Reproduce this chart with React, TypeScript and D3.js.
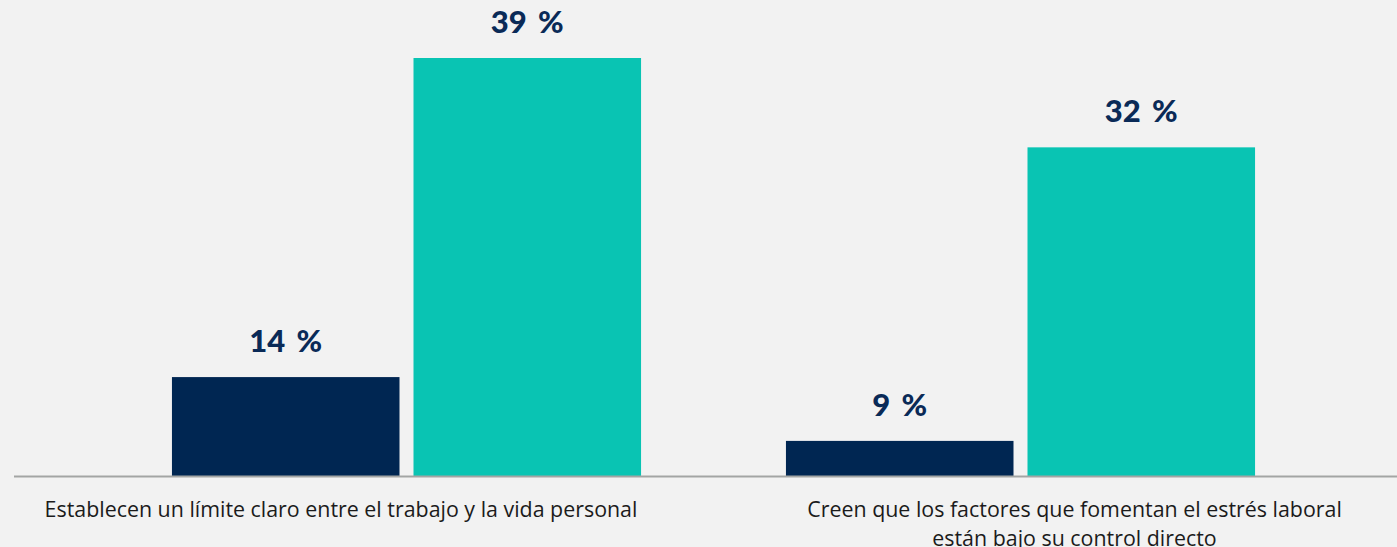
import { useEffect, useRef } from "react";
import * as d3 from "d3";

// data
const categories = [
  "Establecen un límite claro entre el trabajo y la vida personal",
  "Creen que los factores que fomentan el estrés laboral|están bajo su control directo",
];
const seriesNames = ["grupo A", "grupo B"];
const seriesA = [14, 9];
const seriesB = [39, 32];
const seriesColors = ["#002652", "#09c4b3"];

const W = 1397;
const H = 547;

const App = () => {
  const svgRef = useRef<SVGSVGElement | null>(null);

  useEffect(() => {
    document.body.style.margin = "0";
    const svg = d3.select(svgRef.current);
    svg.selectAll("*").remove();

    const baseY = 476;
    const rows = categories.map((c, i) => ({ cat: c, values: [seriesA[i], seriesB[i]] }));

    svg.append("rect").attr("width", W).attr("height", H).attr("fill", "#f2f2f2");

    const x0 = d3
      .scaleBand()
      .domain(categories)
      .range([99.5, 1327.5])
      .paddingInner(0.236)
      .paddingOuter(0.118);

    const x1 = d3
      .scaleBand()
      .domain(seriesNames)
      .range([0, x0.bandwidth()])
      .paddingInner(0.058);

    // axis doesn't start at zero in the original
    const y = d3.scaleLinear().domain([6.25, 39]).range([baseY, 58]);

    const g = svg
      .selectAll(".grp")
      .data(rows)
      .enter()
      .append("g")
      .attr("class", "grp")
      .attr("transform", (d) => `translate(${x0(d.cat)},0)`);

    const bars = g
      .selectAll(".bar")
      .data((d) => d.values.map((v, j) => ({ v, name: seriesNames[j], j })))
      .enter();

    bars
      .append("rect")
      .attr("class", "bar")
      .attr("x", (d) => x1(d.name)!)
      .attr("y", (d) => y(d.v))
      .attr("width", x1.bandwidth())
      .attr("height", (d) => baseY - y(d.v))
      .attr("fill", (d) => seriesColors[d.j]);

    bars
      .append("text")
      .attr("x", (d) => x1(d.name)! + x1.bandwidth() / 2)
      .attr("y", (d) => y(d.v) - 25)
      .attr("text-anchor", "middle")
      .attr("font-family", "Lato, sans-serif")
      .attr("font-weight", 900)
      .attr("font-size", 31)
      .attr("fill", "#0a2a57")
      .attr("word-spacing", 4)
      .text((d) => `${d.v} %`);

    // baseline
    svg
      .append("line")
      .attr("x1", 14)
      .attr("x2", W)
      .attr("y1", baseY + 0.5)
      .attr("y2", baseY + 0.5)
      .attr("stroke", "#a3a5a4")
      .attr("stroke-width", 2);

    // category labels (not centred on the groups in the original)
    const labelShift = [-65.5, 54];
    categories.forEach((c, i) => {
      const cx = x0(c)! + x0.bandwidth() / 2 + labelShift[i];
      const t = svg
        .append("text")
        .attr("text-anchor", "middle")
        .attr("font-family", "'Open Sans', sans-serif")
        .attr("font-size", 21.4)
        .attr("fill", "#1b1b1b");
      c.split("|").forEach((line, k) => {
        t.append("tspan").attr("x", cx).attr("y", 517 + k * 29).text(line);
      });
    });
  }, []);

  return (
    <div>
      <svg ref={svgRef} width={W} height={H} style={{ display: "block" }}></svg>
    </div>
  );
};

export default App;
